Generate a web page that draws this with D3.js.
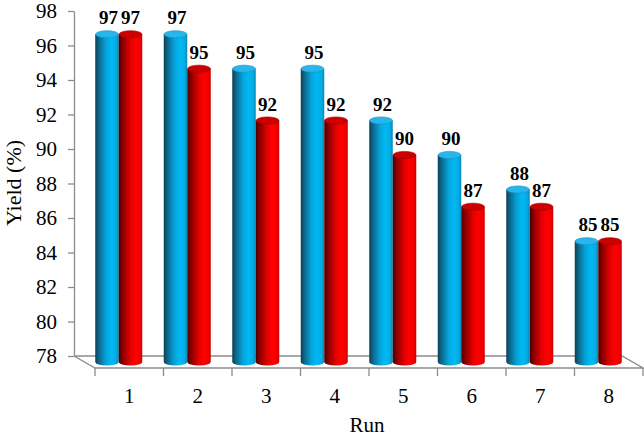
<!DOCTYPE html>
<html>
<head>
<meta charset="utf-8">
<script src="https://cdn.jsdelivr.net/npm/d3@7"></script>
</head>
<body style="margin:0;padding:0;background:#fff">
<svg id="chart" width="644" height="438" style="display:block"></svg>
<script>
const categories = ["1", "2", "3", "4", "5", "6", "7", "8"];
const seriesNames = ["blue", "red"];
const blueValues = [97, 97, 95, 95, 92, 90, 88, 85];
const redValues = [97, 95, 92, 92, 90, 87, 87, 85];
const yTicks = [78, 80, 82, 84, 86, 88, 90, 92, 94, 96, 98];
const yTitle = "Yield (%)";
const xTitle = "Run";

const FONT = "Liberation Serif";
const svg = d3.select("#chart");

const plot = { left: 74, right: 622, top: 11, bottom: 356 };
const depth = { dx: 21, dy: 12 };
const axisColor = "#8c8c8c";

const y = d3.scaleLinear().domain([78, 98]).range([plot.bottom, plot.top]);
const x0 = d3.scaleBand().domain(categories).range([plot.left, plot.right]).padding(0);
const x1 = d3.scaleBand().domain(seriesNames).range([0, 47]).padding(0);

function label(parent, x, yy, txt, size, bold) {
  const t = parent.append("text").attr("x", x).attr("y", yy)
    .attr("font-family", FONT).attr("font-size", size).attr("fill", "#000")
    .attr("text-anchor", "middle").text(txt);
  t.node().style.setProperty("font-family", FONT, "important");
  if (bold) t.attr("font-weight", "bold");
  return t;
}

// floor
const floor = svg.append("g").attr("fill", "none").attr("stroke", axisColor).attr("stroke-width", 1.3);
floor.append("path").attr("d", d3.line()([
  [plot.left, plot.bottom], [plot.right, plot.bottom],
  [plot.right + depth.dx, plot.bottom + depth.dy],
  [plot.left + depth.dx, plot.bottom + depth.dy],
  [plot.left, plot.bottom]
]));
const boundaries = categories.map(c => x0(c)).concat([plot.right]);
boundaries.forEach(b => {
  floor.append("line").attr("x1", b + depth.dx).attr("x2", b + depth.dx)
    .attr("y1", plot.bottom + depth.dy).attr("y2", plot.bottom + depth.dy + 8);
});

// y axis (line + ticks via scale; labels as plain text)
const yAxis = svg.append("g").attr("transform", `translate(${plot.left},0)`)
  .call(d3.axisLeft(y).tickValues(yTicks).tickSize(6).tickFormat("").tickSizeOuter(0));
yAxis.select(".domain").attr("stroke", axisColor).attr("stroke-width", 1.3);
yAxis.selectAll(".tick line").attr("stroke", axisColor).attr("stroke-width", 1.3);
yAxis.selectAll(".tick text").remove();
const yLabels = svg.append("g");
yTicks.forEach(v => {
  label(yLabels, plot.left - 17, y(v) + 7, String(v), 21).attr("text-anchor", "end");
});

// category labels
const xLabels = svg.append("g");
categories.forEach(c => label(xLabels, x0(c) + x0.bandwidth() / 2 + depth.dx, 403, c, 21));

// titles
label(svg, 367, 432, xTitle, 21);
label(svg, 0, 0, yTitle, 22).attr("transform", "translate(21,183) rotate(-90)");

// gradients
const defs = svg.append("defs");
function grad(id, stops) {
  const g = defs.append("linearGradient").attr("id", id)
    .attr("x1", "0%").attr("x2", "100%").attr("y1", "0%").attr("y2", "0%");
  stops.forEach(s => g.append("stop").attr("offset", s[0]).attr("stop-color", s[1]));
}
grad("gBlue", [["0%", "#0a3f55"], ["15%", "#0d6688"], ["45%", "#06a3da"], ["68%", "#00b9f3"], ["88%", "#05ace4"], ["100%", "#0a86b4"]]);
grad("gRed", [["0%", "#4e0000"], ["18%", "#8c0000"], ["48%", "#e00000"], ["70%", "#ff0000"], ["90%", "#f20000"], ["100%", "#c40000"]]);
const topFill = { blue: "#27b6ec", red: "#cc0000" };
const topStroke = { blue: "#1590c0", red: "#a00000" };
const bodyFill = { blue: "url(#gBlue)", red: "url(#gRed)" };

// bars (cylinders) at mid depth
const mdx = depth.dx / 2, mdy = depth.dy / 2;
const bars = [];
categories.forEach((c, i) => {
  bars.push({ cat: c, series: "blue", value: blueValues[i] });
  bars.push({ cat: c, series: "red", value: redValues[i] });
});
const ry = 3.6;
const barG = svg.append("g");
bars.forEach(b => {
  const cx0 = x0(b.cat) + (x0.bandwidth() - 47) / 2 + mdx + x1(b.series);
  const w = x1.bandwidth();
  const cx = cx0 + w / 2;
  const yTop = y(b.value) + mdy;
  const yBot = y(78) + mdy;
  const g = barG.append("g");
  g.append("path")
    .attr("d", `M${cx0},${yTop} L${cx0},${yBot} A${w / 2},${ry} 0 0 0 ${cx0 + w},${yBot} L${cx0 + w},${yTop} Z`)
    .attr("fill", bodyFill[b.series]);
  g.append("ellipse").attr("cx", cx).attr("cy", yTop).attr("rx", w / 2 - 0.3).attr("ry", ry)
    .attr("fill", topFill[b.series]).attr("stroke", topStroke[b.series]).attr("stroke-width", 0.6);
  label(g, cx + (b.series === "blue" ? 1.5 : 0), yTop - 10, String(b.value), 19, true);
});
</script>
</body>
</html>
